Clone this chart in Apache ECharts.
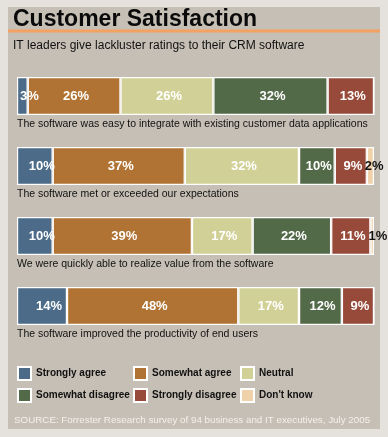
<!DOCTYPE html>
<html><head><meta charset="utf-8">
<script src="https://cdn.jsdelivr.net/npm/echarts@6/dist/echarts.min.js"></script>
<style>html,body{margin:0;padding:0;background:#e5e2dd;}#c{width:388px;height:437px;}</style>
</head><body><div id="c"></div>
<script>
const categories = [
  "The software was easy to integrate with existing customer data applications",
  "The software met or exceeded our expectations",
  "We were quickly able to realize value from the software",
  "The software improved the productivity of end users"
];
const seriesNames = ["Strongly agree","Somewhat agree","Neutral","Somewhat disagree","Strongly disagree","Don't know"];
const stronglyAgree    = [3, 10, 10, 14];
const somewhatAgree    = [26, 37, 39, 48];
const neutral          = [26, 32, 17, 17];
const somewhatDisagree = [32, 10, 22, 12];
const stronglyDisagree = [13, 9, 11, 9];
const dontKnow         = [0, 2, 1, 0];
const titleText = "Customer Satisfaction";
const subtitleText = "IT leaders give lackluster ratings to their CRM software";
const sourceText = "SOURCE: Forrester Research survey of 94 business and IT executives, July 2005";

const colors = ["#4b6b88","#b07333","#d1d197","#536a49","#974a3a","#f0d2aa"];
const values = [stronglyAgree, somewhatAgree, neutral, somewhatDisagree, stronglyDisagree, dontKnow];
const FONT = "Liberation Sans";

const series = seriesNames.map((name, i) => {
  const isDK = i === 5;
  return {
    name, type: 'bar', stack: 'all', barWidth: 38,
    itemStyle: { color: colors[i], borderColor: '#ffffff', borderWidth: 1.2 },
    label: {
      show: true,
      position: isDK ? 'insideLeft' : 'inside',
      distance: 0,
      offset: i === 0 ? [7, 0] : (isDK ? [-2, 0] : [2, 0]),
      color: isDK ? '#111111' : '#ffffff',
      fontFamily: FONT, fontWeight: 'bold', fontSize: 13,
      formatter: p => p.value ? p.value + '%' : ''
    },
    emphasis: { disabled: true },
    data: values[i]
  };
});

const legendBase = {
  orient: 'vertical', itemWidth: 13, itemHeight: 13, itemGap: 7,
  icon: 'rect', padding: 0,
  textStyle: { fontFamily: FONT, fontWeight: 'bold', fontSize: 10, color: '#111' },
  selectedMode: false, top: 366
};

const chart = echarts.init(document.getElementById('c'), null, { renderer: 'canvas' });
chart.setOption({
  animation: false,
  backgroundColor: '#e5e2dd',
  graphic: [
    { type: 'rect', shape: { x: 8, y: 7, width: 372, height: 422 }, style: { fill: '#c6bfb5' }, z: -10 },
    { type: 'rect', shape: { x: 8, y: 29.5, width: 372, height: 3 }, style: { fill: '#f4a262' }, z: -5 }
  ],
  title: [
    { text: titleText, left: 13, top: 8, padding: 0, textStyle: { fontFamily: FONT, fontWeight: 'bold', fontSize: 23, color: '#0a0a0a' } },
    { text: subtitleText, left: 13, top: 40, padding: 0, textStyle: { fontFamily: FONT, fontWeight: 'normal', fontSize: 12, color: '#111' } },
    { text: sourceText, left: 14, top: 415, padding: 0, textStyle: { fontFamily: FONT, fontWeight: 'normal', fontSize: 9.8, color: '#f3f0ea' } }
  ],
  legend: [
    Object.assign({}, legendBase, { left: 17, data: [seriesNames[0], seriesNames[3]] }),
    Object.assign({}, legendBase, { left: 133, data: [seriesNames[1], seriesNames[4]] }),
    Object.assign({}, legendBase, { left: 240, data: [seriesNames[2], seriesNames[5]] })
  ],
  grid: { left: 17, width: 357, top: 61, height: 280, outerBoundsMode: 'none' },
  xAxis: { type: 'value', min: 0, max: 100, show: false },
  yAxis: {
    type: 'category', data: categories, inverse: true,
    axisLine: { show: false }, axisTick: { show: false }, splitLine: { show: false },
    axisLabel: {
      inside: true, margin: 0, interval: 0, align: 'left', verticalAlign: 'top',
      padding: [23, 0, 0, 0],
      fontFamily: FONT, fontSize: 10.5, color: '#111'
    }
  },
  series
});
</script></body></html>
